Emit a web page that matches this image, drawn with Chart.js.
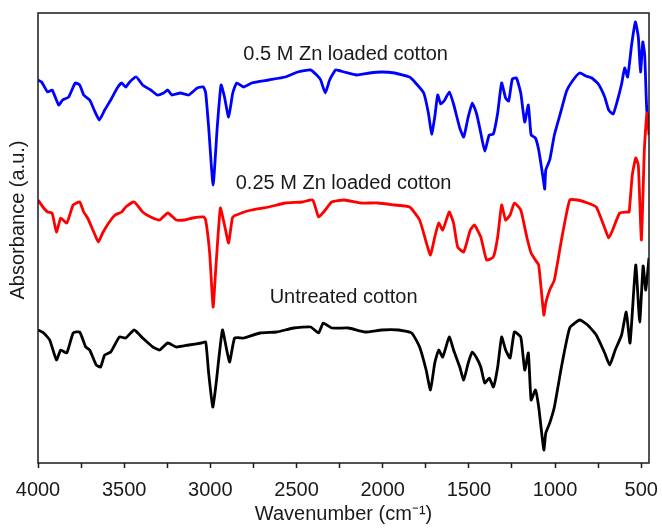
<!DOCTYPE html>
<html>
<head>
<meta charset="utf-8">
<script src="https://cdn.jsdelivr.net/npm/chart.js@4"></script>
<style>
  html, body { margin: 0; padding: 0; background: #fff; }
  #wrap { width: 662px; height: 531px; }
</style>
</head>
<body>
<div id="wrap"><canvas id="grafico" width="662" height="531"></canvas></div>
<script>
// espectros FTIR (absorbancia en u.a., con desplazamiento)
const blueWn = [4000,3979,3944,3918,3880,3857,3822,3784,3758,3735,3700,3674,3644,3613,3578,3540,3514,3491,3468,3430,3393,3346,3308,3271,3247,3224,3174,3126,3076,3040,3027,3010,2984,2960,2938,2918,2894,2870,2847,2808,2760,2661,2565,2493,2418,2383,2360,2333,2308,2273,2224,2151,2076,2006,1931,1844,1809,1762,1735,1716,1698,1681,1663,1640,1614,1589,1553,1530,1504,1480,1455,1431,1408,1382,1358,1333,1310,1287,1269,1248,1224,1199,1176,1155,1139,1114,1095,1072,1060,1054,1031,1004,967,933,895,857,822,787,749,712,689,663,639,614,596,579,556,534,517,504,491,480,468,455];
const blueAbs = [383,381,371,373,358,363,366,380,378,368,363,353,343,353,363,375,380,376,381,386,378,373,368,370,373,368,370,368,375,376,370,336,278,336,378,366,346,370,380,376,380,383,386,391,393,388,383,370,383,393,391,388,390,391,390,386,380,370,350,329,346,368,359,363,371,359,335,326,346,360,349,330,312,328,329,350,380,365,362,384,385,370,341,358,328,325,313,288,274,293,303,328,351,372,383,390,387,385,379,366,353,349,362,379,395,386,418,441,426,391,421,408,353,338];

const redWn = [4000,3967,3944,3918,3893,3868,3833,3796,3758,3735,3712,3674,3650,3625,3590,3552,3514,3491,3442,3393,3346,3294,3247,3198,3149,3102,3039,3027,3004,2984,2969,2942,2918,2894,2870,2820,2760,2661,2565,2467,2406,2372,2333,2296,2224,2128,2029,1931,1844,1786,1748,1723,1698,1675,1652,1614,1589,1565,1530,1492,1468,1431,1397,1358,1333,1310,1287,1261,1236,1199,1164,1139,1114,1095,1065,1054,1031,1004,963,915,870,811,761,712,689,666,625,579,570,552,532,517,499,482,467,455];
const redAbs = [263,255,251,250,231,245,240,258,261,251,245,230,221,230,240,248,251,256,261,251,246,243,250,243,243,245,246,243,210,156,193,255,238,220,246,250,253,256,260,261,263,246,253,261,263,260,260,258,256,243,221,208,226,240,233,251,240,216,211,233,238,226,203,206,226,258,243,248,260,253,226,210,203,198,148,160,173,183,223,263,263,260,256,235,225,233,250,251,251,288,305,298,223,313,350,328];

const blackWn = [4000,3967,3932,3893,3868,3833,3796,3758,3723,3700,3662,3637,3613,3578,3528,3491,3442,3393,3334,3294,3247,3198,3126,3052,3027,3010,2986,2969,2930,2905,2888,2859,2808,2711,2615,2516,2418,2372,2345,2296,2199,2102,2006,1907,1832,1786,1748,1723,1698,1675,1652,1614,1589,1553,1530,1504,1480,1455,1431,1408,1382,1358,1333,1310,1287,1261,1236,1199,1176,1155,1139,1114,1095,1065,1054,1031,1004,963,915,857,811,761,712,683,651,614,587,565,532,509,489,474,455];
const blackAbs = [133,130,123,103,113,110,130,131,116,113,98,96,108,111,126,125,133,125,116,113,120,116,118,120,121,90,56,76,133,113,101,125,125,130,131,135,136,130,140,135,135,131,133,133,130,116,93,73,100,113,106,126,113,96,83,100,111,105,96,80,85,76,96,126,113,105,131,126,93,110,63,73,56,13,30,40,56,96,135,143,138,128,110,98,113,128,151,120,198,141,197,173,205];

const seriesNames = ["0.5 M Zn loaded cotton", "0.25 M Zn loaded cotton", "Untreated cotton"];
const labelWn = [2215, 2227, 2227];
const labelAbs = [409, 280, 166];

const majorTicks = [4000, 3500, 3000, 2500, 2000, 1500, 1000, 500];
const minorTicks = [3750, 3250, 2750, 2250, 1750, 1250, 750];

const fuente = '"Liberation Sans", Arial, sans-serif';
const tinta = "#1a1a1a";

function puntos(wn, abs) {
  return wn.map((x, i) => ({ x: x, y: abs[i] }));
}

const marcoYEtiquetas = {
  id: "marcoYEtiquetas",
  afterDatasetsDraw(chart) {
    const { ctx, chartArea: a, scales } = chart;
    ctx.save();
    ctx.strokeStyle = tinta;
    ctx.lineWidth = 1.5;
    ctx.strokeRect(a.left, a.top, a.right - a.left, a.bottom - a.top);
    ctx.fillStyle = tinta;
    ctx.font = "20px " + fuente;
    ctx.textAlign = "center";
    ctx.textBaseline = "middle";
    seriesNames.forEach((t, i) => {
      ctx.fillText(t, scales.x.getPixelForValue(labelWn[i]), scales.y.getPixelForValue(labelAbs[i]));
    });
    // titulo del eje y
    ctx.translate(18, 220);
    ctx.rotate(-Math.PI / 2);
    ctx.fillText("Absorbance (a.u.)", 0, 0);
    ctx.restore();
  }
};

document.addEventListener("DOMContentLoaded", () => {
  const ctx = document.getElementById("grafico").getContext("2d");
  const linea = (data, color) => ({
    data: data,
    borderColor: color,
    borderWidth: 2.8,
    pointRadius: 0,
    tension: 0.15,
    fill: false
  });

  new Chart(ctx, {
    type: "line",
    data: {
      datasets: [
        linea(puntos(blackWn, blackAbs), "#000000"),
        linea(puntos(redWn, redAbs), "#ff0000"),
        linea(puntos(blueWn, blueAbs), "#0000ff")
      ]
    },
    options: {
      responsive: false,
      animation: false,
      layout: { padding: { left: 38, right: 13, top: 13, bottom: 7 } },
      plugins: {
        legend: { display: false },
        tooltip: { enabled: false }
      },
      scales: {
        x: {
          type: "linear",
          reverse: true,
          min: 455,
          max: 4000,
          afterBuildTicks: (scale) => {
            scale.ticks = majorTicks.concat(minorTicks).sort((a, b) => a - b).map(v => ({ value: v }));
          },
          ticks: {
            autoSkip: false,
            maxRotation: 0,
            padding: 12,
            color: tinta,
            font: { family: fuente, size: 20, lineHeight: 1 },
            callback: (v) => majorTicks.includes(v) ? String(v) : ""
          },
          grid: {
            drawOnChartArea: false,
            drawTicks: true,
            tickLength: 5,
            tickColor: tinta,
            tickWidth: 1.5
          },
          border: { display: false },
          title: {
            display: true,
            text: "Wavenumber (cm\u207B\u00B9)",
            color: tinta,
            font: { family: fuente, size: 20, lineHeight: 1 },
            padding: { top: -8, bottom: 0 }
          }
        },
        y: {
          min: 0,
          max: 450,
          ticks: { display: false },
          grid: { display: false, drawTicks: false },
          border: { display: false },
          title: { display: false }
        }
      }
    },
    plugins: [marcoYEtiquetas]
  });
});
</script>
</body>
</html>
